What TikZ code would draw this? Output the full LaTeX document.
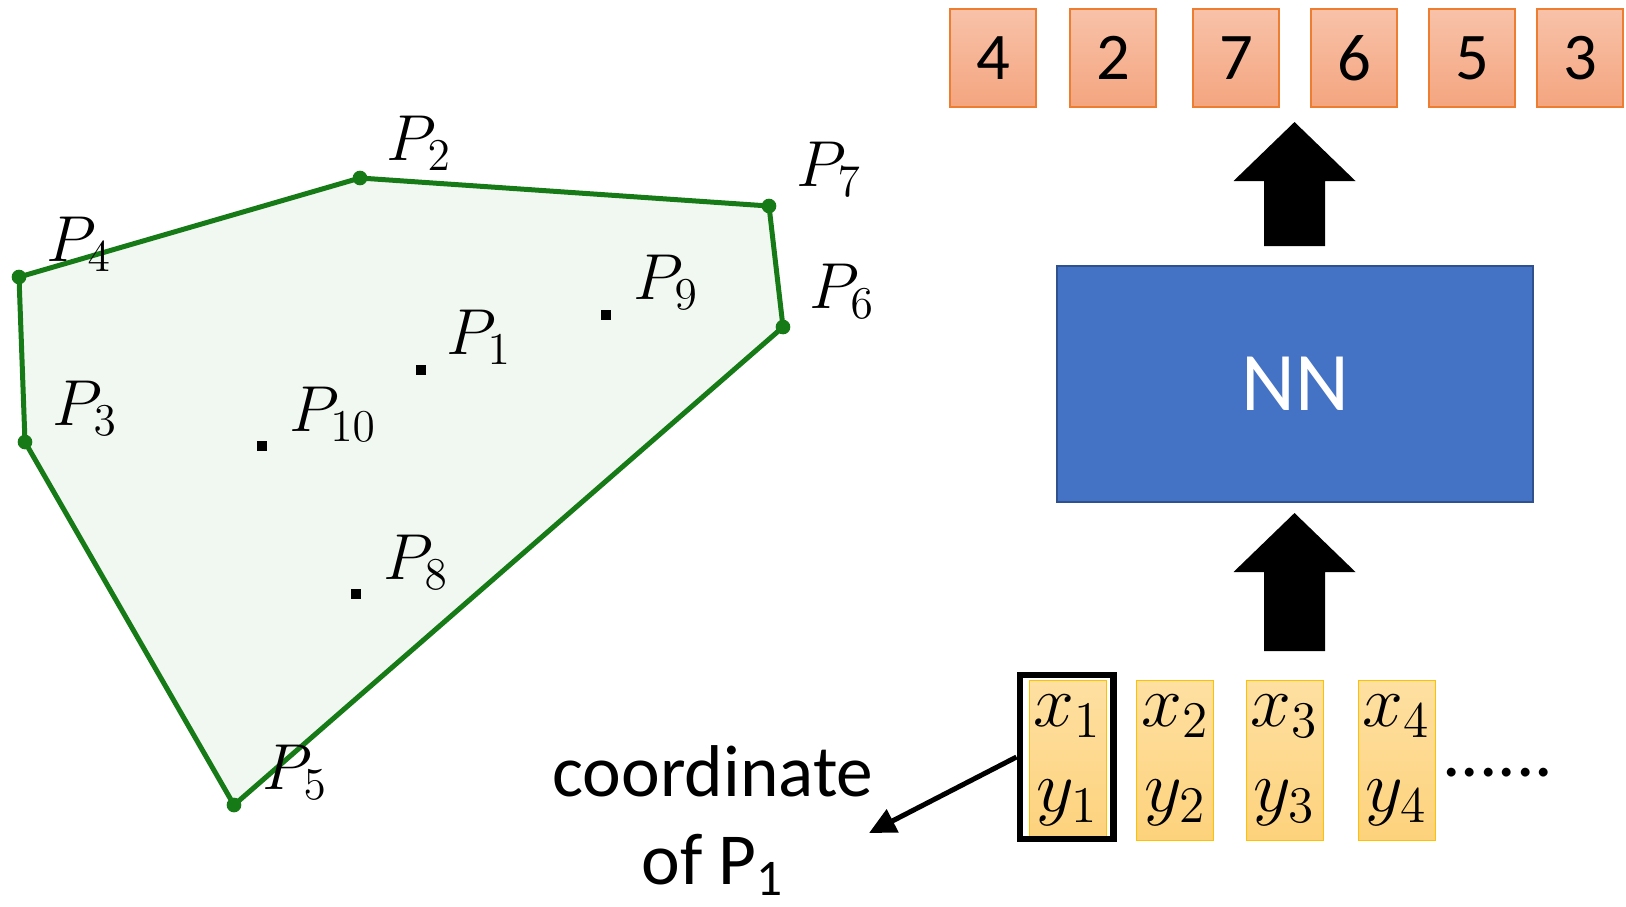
\documentclass[tikz,border=0pt]{standalone}
\usepackage{fix-cm}
\usepackage{fontspec}
\setsansfont{Carlito}
\usetikzlibrary{arrows.meta,positioning,calc}
\definecolor{hullgreen}{RGB}{22,122,22}
\definecolor{hullfill}{RGB}{241,247,241}
\definecolor{outtop}{HTML}{F8C2A9}
\definecolor{outbot}{HTML}{F4A57F}
\definecolor{outedge}{HTML}{ED7D31}
\definecolor{intop}{HTML}{FEE0A2}
\definecolor{inbot}{HTML}{FDD27C}
\definecolor{inedge}{HTML}{FFC000}
\definecolor{nnfill}{HTML}{4472C4}
\definecolor{nnedge}{HTML}{2F528F}
\tikzset{
  outbox/.style={draw=outedge,line width=0.4pt,top color=outtop,bottom color=outbot,minimum width=25.8pt,minimum height=29.4pt,inner sep=0pt,font=\sffamily\fontsize{20}{24}\selectfont},
  inbox/.style={draw=inedge,line width=0.3pt,top color=intop,bottom color=inbot,minimum width=23.1pt,minimum height=48pt,inner sep=0pt,align=center,font=\fontsize{22}{25.5}\selectfont},
  selbox/.style={draw=black,line width=2pt,minimum width=28pt,minimum height=49.2pt,inner sep=0pt},
  nnbox/.style={draw=nnedge,fill=nnfill,line width=0.6pt,minimum width=142.8pt,minimum height=70.8pt,inner sep=0pt,text=white,font=\sffamily\fontsize{25}{30}\selectfont},
  hull/.style={draw=hullgreen,fill=hullfill,line width=1.5pt,line join=round},
  vtx/.style={circle,fill=hullgreen,inner sep=0pt,minimum size=4.4pt},
  ipt/.style={rectangle,fill=black,inner sep=0pt,minimum size=3.2pt},
  lbl/.style={inner sep=0pt,font=\fontsize{19.5}{22}\selectfont},
  txt/.style={inner sep=0pt,font=\sffamily\fontsize{22}{26}\selectfont},
  ar/.style={-{Triangle[length=8pt,width=7.5pt]},line width=1.5pt},
}
% fat block arrow: x, bottom y, tip y
\newcommand\fatup[3]{\fill (#1-30.5,#2) -- (#1-30.5,#3+59) -- (#1-61,#3+59) -- (#1,#3)
  -- (#1+61,#3+59) -- (#1+30.5,#3+59) -- (#1+30.5,#2) -- cycle;}

\begin{document}
\begin{tikzpicture}[x=0.3pt,y=-0.3pt]
  \useasboundingbox (0,0) rectangle (1626,906);
  % convex hull
  \coordinate (v4) at (19,277);
  \coordinate (v2) at (360,178);
  \coordinate (v7) at (769,206);
  \coordinate (v6) at (783,327);
  \coordinate (v5) at (234,805);
  \coordinate (v3) at (25,442);
  \draw[hull] (v4) -- (v2) -- (v7) -- (v6) -- (v5) -- (v3) -- cycle;
  \foreach \v in {2,3,4,5,6,7} \node[vtx] at (v\v) {};
  % inner points
  \node[ipt] (q9) at (606,315) {};
  \node[ipt] (q1) at (421,370) {};
  \node[ipt] (q10) at (262,446) {};
  \node[ipt] (q8) at (356,594) {};
  % labels
  \foreach \n/\x/\y in {2/419/143,7/829/169,4/79/244,6/842/291,9/666/282,1/479/337,3/85/408,10/333/414,8/416/562,5/295/772}
    \node[lbl] (l\n) at (\x,\y) {$P_{\n}$};

  % network
  \foreach \x/\d [count=\i] in {993/4,1113/2,1236/7,1354/6,1472/5,1580/3}
    \node[outbox] (out\i) at (\x,58) {\d};
  \node[nnbox] (nn) at (1295,384) {NN};
  \foreach \x [count=\i] in {1067.5,1175,1284.5,1396.5}
    \node[inbox] (in\i) at (\x,760) {$x_{\i}$\\$y_{\i}$};
  \node[selbox] (sel) at (1066.5,757) {};
  \node[txt,anchor=base] (dots) at (1498,776) {......};
  \fatup{1294.5}{246}{122}
  \fatup{1294.5}{651}{513}

  % callout
  \node[txt,anchor=base] (coord) at (713,796) {coordinate};
  \node[txt,anchor=base] (ofp) at (713,884) {of P\textsubscript{1}};
  \coordinate (tip) at (869,833);
  \draw[ar] (sel.west) -- (tip);
\end{tikzpicture}
\end{document}
